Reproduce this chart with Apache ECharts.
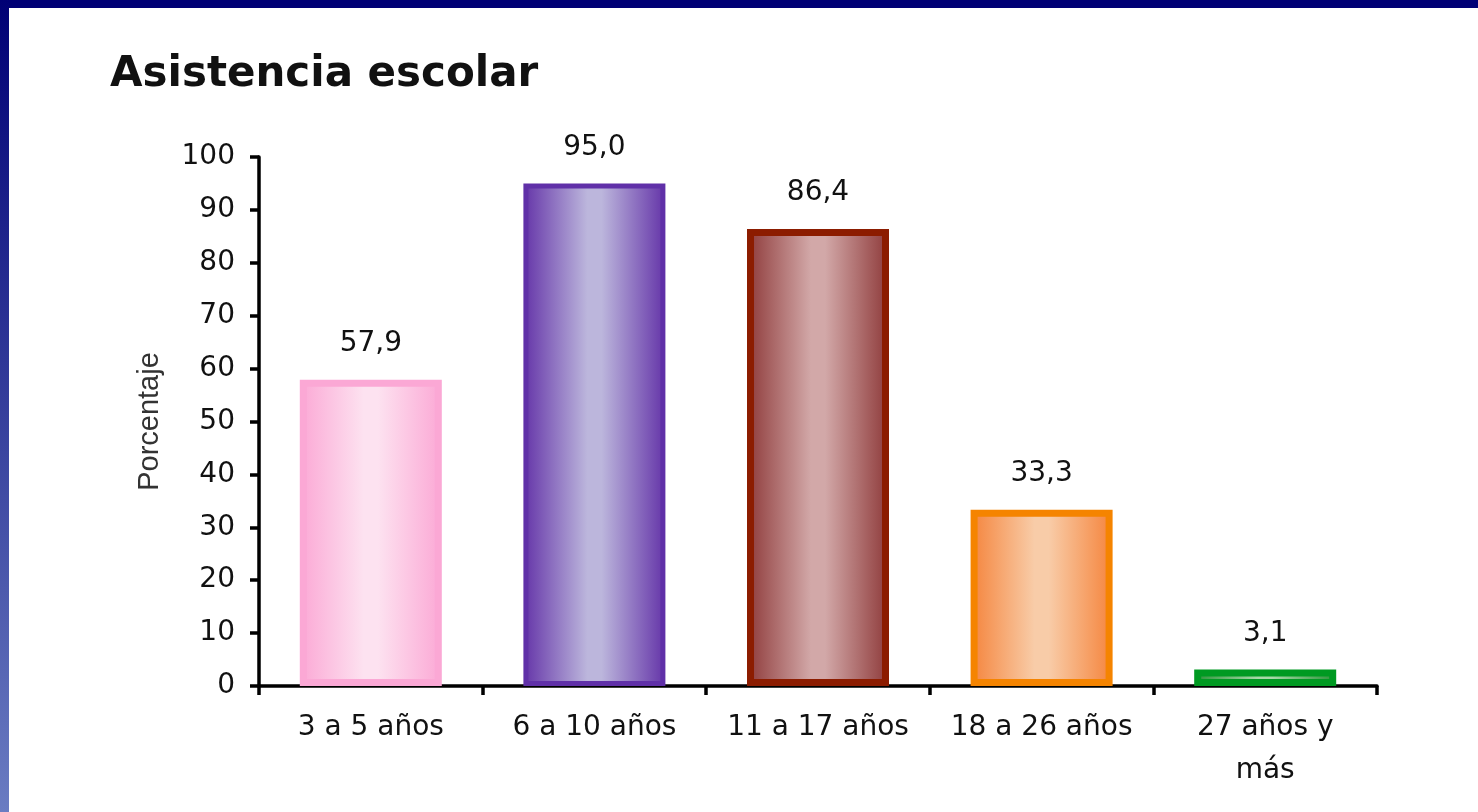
<!DOCTYPE html>
<html>
<head>
<meta charset="utf-8">
<script src="https://cdn.jsdelivr.net/npm/echarts@6/dist/echarts.min.js"></script>
<style>
  html, body { margin: 0; padding: 0; background: #fff; }
  #chart { width: 1478px; height: 812px; }
</style>
</head>
<body>
<div id="chart"></div>
<script>
var categories = ['3 a 5 años', '6 a 10 años', '11 a 17 años', '18 a 26 años', '27 años y\nmás'];
var values = [57.9, 95.0, 86.4, 33.3, 3.1];
var borderColors = ['#fba8d5', '#6030a8', '#8c1c00', '#f58400', '#009a22'];
var edgeColors = ['#fba8d5', '#6434a8', '#8e3a3a', '#f5843c', '#2a9438'];
var centerColors = ['#fde2f0', '#bcb6dc', '#d2a8a8', '#f8cca8', '#a8d8a8'];

function grad(i) {
  return {
    type: 'linear', x: 0, y: 0, x2: 1, y2: 0,
    colorStops: [
      { offset: 0, color: edgeColors[i] },
      { offset: 0.45, color: centerColors[i] },
      { offset: 0.55, color: centerColors[i] },
      { offset: 1, color: edgeColors[i] }
    ]
  };
}

var barData = values.map(function (v, i) {
  return {
    value: v,
    itemStyle: {
      color: grad(i),
      borderColor: borderColors[i],
      borderWidth: i === 1 ? 5 : 7
    }
  };
});

var chart = echarts.init(document.getElementById('chart'));
chart.setOption({
  animation: false,
  backgroundColor: '#ffffff',
  title: {
    text: 'Asistencia escolar',
    left: 105,
    top: 49,
    textStyle: { fontFamily: 'DejaVu Sans', fontSize: 42, fontWeight: 'bold', color: '#111' }
  },
  graphic: [
    { type: 'rect', left: 0, top: 0, shape: { width: 1478, height: 8 }, style: { fill: '#000075' }, z: 100 },
    { type: 'rect', left: 0, top: 0, shape: { width: 9, height: 812 },
      style: { fill: { type: 'linear', x: 0, y: 0, x2: 0, y2: 1,
        colorStops: [{ offset: 0, color: '#000075' }, { offset: 1, color: '#6a7cc2' }] } }, z: 100 }
  ],
  grid: { left: 259, right: 101, top: 157, bottom: 126, containLabel: false },
  xAxis: {
    type: 'category',
    data: categories,
    axisLine: { lineStyle: { color: '#000', width: 3.5 } },
    axisTick: { show: true, length: 9, lineStyle: { color: '#000', width: 3.5 } },
    axisLabel: {
      fontFamily: 'DejaVu Sans', fontSize: 28, color: '#111',
      margin: 20, lineHeight: 43, interval: 0
    }
  },
  yAxis: {
    type: 'value',
    min: 0, max: 100, interval: 10,
    name: 'Porcentaje',
    nameLocation: 'middle',
    nameRotate: 90,
    nameGap: 95,
    nameTextStyle: { fontFamily: 'Liberation Sans', fontSize: 29, color: '#333' },
    axisLine: { show: true, lineStyle: { color: '#000', width: 3.5 } },
    axisTick: { show: true, length: 9, lineStyle: { color: '#000', width: 3.5 } },
    splitLine: { show: false },
    axisLabel: { fontFamily: 'DejaVu Sans', fontSize: 28, color: '#111', margin: 24 }
  },
  series: [{
    type: 'bar',
    data: barData,
    barWidth: 142,
    label: {
      show: true,
      position: 'top',
      distance: 22,
      fontFamily: 'DejaVu Sans',
      fontSize: 28,
      color: '#111',
      formatter: function (p) { return p.value.toFixed(1).replace('.', ','); }
    }
  }]
});
</script>
</body>
</html>
